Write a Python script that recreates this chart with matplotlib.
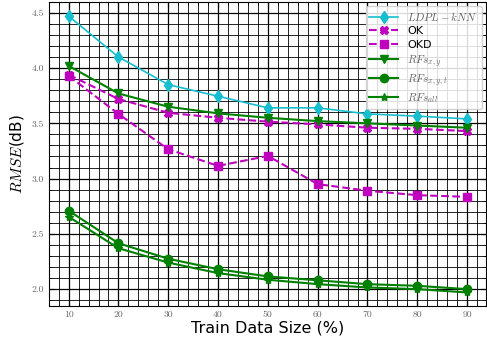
import matplotlib
matplotlib.use('Agg')
import matplotlib.pyplot as plt
from matplotlib.ticker import MultipleLocator

plt.rcParams['mathtext.fontset'] = 'cm'

train_size = [10, 20, 30, 40, 50, 60, 70, 80, 90]
ldpl_knn = [4.47, 4.10, 3.85, 3.745, 3.64, 3.64, 3.585, 3.565, 3.54]
ok = [3.94, 3.72, 3.595, 3.55, 3.515, 3.49, 3.46, 3.45, 3.43]
okd = [3.93, 3.585, 3.265, 3.115, 3.205, 2.95, 2.89, 2.85, 2.835]
rfs_xy = [4.02, 3.77, 3.65, 3.59, 3.55, 3.52, 3.50, 3.48, 3.46]
rfs_xyt = [2.71, 2.415, 2.275, 2.18, 2.115, 2.08, 2.045, 2.03, 2.0]
rfs_all = [2.655, 2.37, 2.24, 2.145, 2.085, 2.045, 2.015, 2.0, 1.97]

fig, ax = plt.subplots(figsize=(4.87, 3.44), dpi=100)

ms = 6
ax.plot(train_size, ldpl_knn, color='#17becf', marker='d', markersize=ms, lw=1.2, label='$LDPL-kNN$')
ax.plot(train_size, ok, color='m', marker='X', markersize=ms, lw=1.5, ls='--', label='OK')
ax.plot(train_size, okd, color='m', marker='s', markersize=ms, lw=1.5, ls='--', label='OKD')
ax.plot(train_size, rfs_xy, color='g', marker='v', markersize=ms, lw=1.5, label='$RFs_{x,y}$')
ax.plot(train_size, rfs_xyt, color='g', marker='o', markersize=ms, lw=1.5, label='$RFs_{x,y,t}$')
ax.plot(train_size, rfs_all, color='g', marker='*', markersize=ms, lw=1.5, label='$RFs_{all}$')

ax.set_xlim(6, 93.8)
ax.set_ylim(1.846, 4.6)
ax.set_xticks(train_size)
ax.set_yticks([2.0, 2.5, 3.0, 3.5, 4.0, 4.5])
ax.xaxis.set_minor_locator(MultipleLocator(2))
ax.yaxis.set_minor_locator(MultipleLocator(0.1))
ax.grid(which='major', color='black', lw=0.9)
ax.grid(which='minor', color='black', lw=0.6)
ax.tick_params(which='both', direction='in', top=True, right=True, labelsize=7, labelcolor='#666666')
for lab in ax.get_xticklabels() + ax.get_yticklabels():
    lab.set_fontfamily('cmr10')

ax.set_xlabel('Train Data Size (%)', fontsize=11.5, labelpad=1)
ax.set_ylabel('$RMSE$(dB)', fontsize=11, labelpad=4)

leg = ax.legend(loc='upper right', fontsize=8, framealpha=0.85, borderaxespad=0.4,
                handlelength=2.6, labelspacing=0.3, borderpad=0.35)
for t in leg.get_texts():
    if t.get_text().startswith('$'):
        t.set_color('#666666')

plt.subplots_adjust(left=0.1, right=0.998, top=0.995, bottom=0.11)
plt.savefig('out.png', dpi=100)
